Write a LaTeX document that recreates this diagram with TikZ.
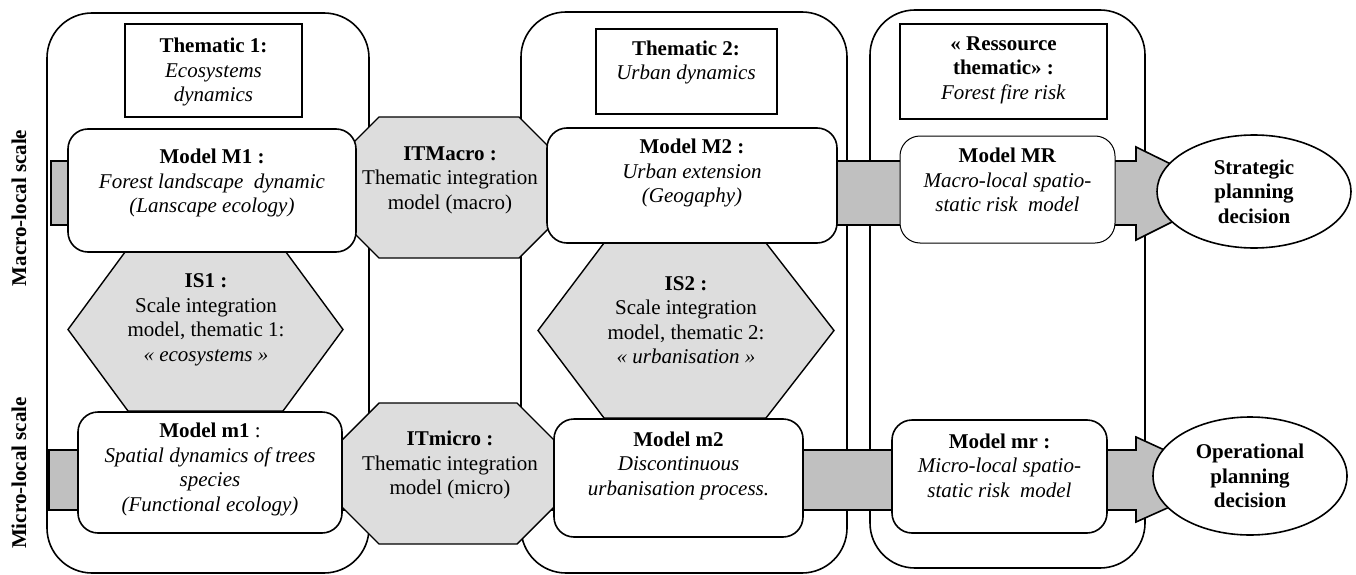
\documentclass[tikz,border=0pt]{standalone}
\usepackage{fontspec}
\setmainfont{Liberation Serif}
\usetikzlibrary{shapes.geometric}
\definecolor{hexgray}{HTML}{DDDDDD}
\definecolor{bandgray}{HTML}{C0C0C0}
\begin{document}
\begin{tikzpicture}[x=1pt,y=-1pt,
  column/.style={draw, line width=1.6pt, rounded corners=45pt, inner sep=0pt, fill=white},
  thbox/.style={draw, line width=1.6pt, inner sep=0pt},
  modelbox/.style={draw, line width=1.6pt, rounded corners=20pt, fill=white, inner sep=0pt},
  band/.style={draw, line width=1.6pt, fill=bandgray},
  integ/.style={draw, line width=1.4pt, fill=hexgray},
  txt/.style={align=center, inner sep=0pt, font=\fontsize{21}{24.5}\selectfont},
  decision/.style={ellipse, draw, line width=1.6pt, fill=white, inner sep=0pt,
    minimum width=194pt, align=center, font=\fontsize{21}{24.5}\selectfont\bfseries},
]
\useasboundingbox (0,0) rectangle (1356,575);

% columns
\node[column, minimum width=322pt, minimum height=560pt] (col1) at (208,293) {};
\node[column, minimum width=326pt, minimum height=561pt] (col2) at (684,292.5) {};
\node[column, minimum width=275pt, minimum height=558pt] (col3) at (1007.5,289) {};

% thematic boxes
\node[thbox, minimum width=177pt, minimum height=93pt] (T1box) at (213.5,70.5) {};
\node[thbox, minimum width=181pt, minimum height=85pt] (T2box) at (686.5,71.5) {};
\node[thbox, minimum width=207pt, minimum height=95pt] (TRbox) at (1003.5,71.5) {};
\node[txt] (T1) at (213.5,72) {\textbf{Thematic 1:}\\\textit{Ecosystems}\\\textit{dynamics}};
\node[txt] (T2) at (686,62.5) {\textbf{Thematic 2:}\\\textit{Urban dynamics}};
\node[txt] (TR) at (1003.5,70) {\textbf{« Ressource}\\\textbf{thematic» :}\\\textit{Forest fire risk}};

% block arrows (bands)
\coordinate (macroStart) at (51,193);
\coordinate (microStart) at (49,480);
\path[band] (macroStart) ++(0,-32) -- ++(1085,0) -- ++(0,-14) -- (1230,193) -- (1136,240)
  -- ++(0,-15) -- (51,225) -- cycle;
\path[band] (microStart) ++(0,-30) -- ++(1087,0) -- ++(0,-13) -- (1230,480) -- (1136,522)
  -- ++(0,-12) -- (49,510) -- cycle;

% integration models
\path[integ] (379,117) -- (519,117) -- (556,154) -- (556,221) -- (519,258) -- (379,258)
  -- (342,221) -- (342,154) -- cycle;
\path[integ] (379,403) -- (517,403) -- (554,440) -- (554,507) -- (517,544) -- (379,544)
  -- (342,507) -- (342,440) -- cycle;
\path[integ] (68,329.5) -- (128,248) -- (283,248) -- (343,329.5) -- (283,411) -- (128,411) -- cycle;
\path[integ] (538,330.5) -- (604,243) -- (766,243) -- (834,330.5) -- (766,418) -- (604,418) -- cycle;
\node[txt] (ITMacro) at (450,180) {\textbf{ITMacro :}\\Thematic integration\\model (macro)};
\node[txt] (ITmicro) at (450,465) {\textbf{ITmicro :}\\Thematic integration\\model (micro)};
\node[txt] (IS1) at (206,320) {\textbf{IS1 :}\\Scale integration\\model, thematic 1:\\\textit{« ecosystems »}};
\node[txt] (IS2) at (686,320) {\textbf{IS2 :}\\Scale integration\\model, thematic 2:\\\textit{« urbanisation »}};

% model boxes
\node[modelbox, minimum width=288pt, minimum height=123pt] (M1box) at (212,190.5) {};
\node[modelbox, minimum width=290pt, minimum height=115pt] (M2box) at (692,185.5) {};
\node[modelbox, line width=1pt, minimum width=215pt, minimum height=107pt] (MRbox) at (1007.5,189.5) {};
\node[modelbox, minimum width=264pt, minimum height=121pt] (m1box) at (210,472.5) {};
\node[modelbox, minimum width=249pt, minimum height=118pt] (m2box) at (678.5,478) {};
\node[modelbox, minimum width=215pt, minimum height=113pt] (mrbox) at (999.5,476.5) {};

\node[txt] (M1) at (212,183) {\textbf{Model M1 :}\\\textit{Forest landscape~ dynamic}\\\textit{(Lanscape ecology)}};
\node[txt] (M2) at (692,173) {\textbf{Model M2 :}\\\textit{Urban extension}\\\textit{(Geogaphy)}};
\node[txt] (MR) at (1007.5,180) {\textbf{Model MR}\\\textit{Macro-local spatio-}\\\textit{static risk~ model}};
\node[txt] (m1) at (210,469.5) {\textbf{Model m1} :\\\textit{Spatial dynamics of trees}\\\textit{species}\\\textit{(Functional ecology)}};
\node[txt] (m2) at (678.5,465.5) {\textbf{Model m2}\\\textit{Discontinuous}\\\textit{urbanisation process.}};
\node[txt] (mr) at (999.5,465.5) {\textbf{Model mr :}\\\textit{Micro-local spatio-}\\\textit{static risk~ model}};

% decisions
\node[decision, minimum height=113pt] (strat) at (1254,191.5) {Strategic\\planning\\decision};
\node[decision, minimum height=118pt] (oper) at (1250,476) {Operational\\planning\\decision};

% scale labels
\node[txt, rotate=90, font=\fontsize{21}{24.5}\selectfont\bfseries] (macroLabel) at (19,208) {Macro-local scale};
\node[txt, rotate=90, font=\fontsize{21}{24.5}\selectfont\bfseries] (microLabel) at (19,473) {Micro-local scale};
\end{tikzpicture}
\end{document}
